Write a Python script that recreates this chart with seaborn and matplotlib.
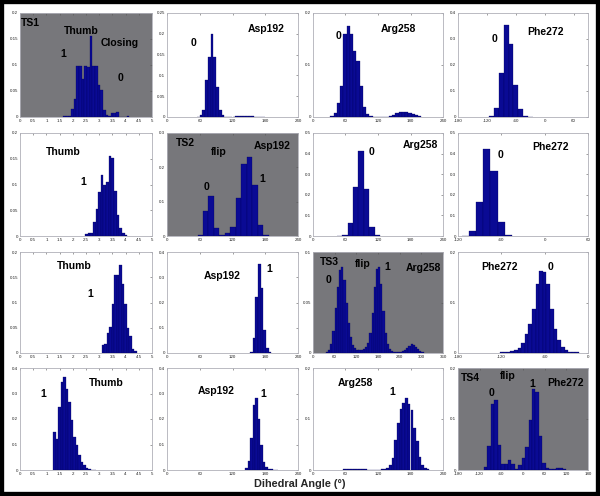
import numpy as np
import pandas as pd
import matplotlib
matplotlib.use("Agg")
import matplotlib.pyplot as plt
from matplotlib.patches import Rectangle
import seaborn as sns

# --- DATA : fraction of frames per bin (bin start, bin width, heights) ---
# row 1 : TS1 (thumb closing)
ts1_thumb_start, ts1_thumb_width = 1.64, 0.1
ts1_thumb_h = [0.001, 0.001, 0.002, 0.015, 0.035, 0.099, 0.099, 0.074, 0.099, 0.097, 0.156,
               0.099, 0.099, 0.061, 0.052, 0.014, 0.003, 0.001, 0.008, 0.008, 0.009, 0, 0, 0, 0.002]
ts1_asp_start, ts1_asp_width = 55, 5
ts1_asp_h = [0.001, 0.004, 0.018, 0.089, 0.145, 0.2, 0.145, 0.073, 0.016, 0.004, 0.001,
             0.001, 0.001, 0.001, 0.002, 0.002, 0.002, 0.002, 0.002, 0.002, 0.002, 0.001, 0.001, 0.001, 0.001]
ts1_arg_start, ts1_arg_width = 32, 6
ts1_arg_h = [0.002, 0.008, 0.026, 0.06, 0.159, 0.175, 0.159, 0.127, 0.107, 0.06, 0.019, 0.006, 0.002,
             0, 0, 0, 0, 0, 0.001, 0.004, 0.008, 0.009, 0.01, 0.01, 0.008, 0.006, 0.003, 0.001]
ts1_phe_start, ts1_phe_width = -115, 10
ts1_phe_h = [0.003, 0.033, 0.171, 0.353, 0.282, 0.123, 0.032, 0.005, 0.001]

# row 2 : TS2 (Asp192 flip)
ts2_thumb_start, ts2_thumb_width = 2.46, 0.1
ts2_thumb_h = [0.004, 0.006, 0.005, 0.028, 0.053, 0.086, 0.119, 0.1, 0.104, 0.155, 0.152,
               0.088, 0.041, 0.016, 0.005, 0.001]
ts2_asp_start, ts2_asp_width = 56, 10
ts2_asp_h = [0.003, 0.074, 0.117, 0.022, 0.003, 0.01, 0.026, 0.112, 0.211, 0.229, 0.149, 0.031, 0.003]
ts2_arg_start, ts2_arg_width = 44, 10
ts2_arg_h = [0.001, 0.006, 0.062, 0.238, 0.413, 0.23, 0.046, 0.005]
ts2_phe_start, ts2_phe_width = -115, 10
ts2_phe_h = [0.002, 0.025, 0.164, 0.423, 0.315, 0.066, 0.004]

# row 3 : TS3 (Arg258 flip)
ts3_thumb_start, ts3_thumb_width = 3.1, 0.095
ts3_thumb_h = [0.015, 0.018, 0.04, 0.052, 0.098, 0.154, 0.154, 0.175, 0.137, 0.098, 0.049, 0.033, 0.008, 0.003]
ts3_asp_start, ts3_asp_width = 152.5, 4.8
ts3_asp_h = [0.003, 0.059, 0.222, 0.354, 0.258, 0.091, 0.02, 0.002]
ts3_arg_start, ts3_arg_width = 36, 6
ts3_arg_h = [0.001, 0.003, 0.009, 0.022, 0.045, 0.065, 0.082, 0.085, 0.072, 0.05, 0.03, 0.016,
             0.008, 0.005, 0.003, 0.003, 0.003, 0.004, 0.006, 0.01, 0.02, 0.04, 0.065, 0.083,
             0.085, 0.068, 0.042, 0.02, 0.009, 0.004, 0.002, 0.001, 0.001, 0.001, 0.001, 0.002,
             0.003, 0.005, 0.007, 0.0085, 0.008, 0.006, 0.004, 0.002, 0.001]
ts3_phe_start, ts3_phe_width = -122.5, 5
ts3_phe_h = [0.001, 0.001, 0.002, 0.003, 0.005, 0.01, 0.02, 0.038, 0.058, 0.087, 0.136,
             0.163, 0.161, 0.136, 0.087, 0.048, 0.025, 0.012, 0.005, 0.002, 0.001, 0.001]

# row 4 : TS4 (Phe272 flip)
ts4_thumb_start, ts4_thumb_width = 1.25, 0.095
ts4_thumb_h = [0.149, 0.123, 0.246, 0.347, 0.365, 0.317, 0.268, 0.197, 0.129, 0.097, 0.058,
               0.032, 0.019, 0.006, 0.002, 0.001, 0.001]
ts4_asp_start, ts4_asp_width = 143, 4.6
ts4_asp_h = [0.009, 0.037, 0.125, 0.254, 0.284, 0.2, 0.099, 0.033, 0.013, 0.005, 0.002, 0.001, 0.001]
ts4_arg_start, ts4_arg_width = 55, 5
ts4_arg_h = [0.001, 0.001, 0.001, 0.001, 0.001, 0.001, 0.001, 0.001, 0.001, 0, 0, 0, 0, 0,
             0.001, 0.002, 0.003, 0.01, 0.024, 0.059, 0.093, 0.12, 0.132, 0.142, 0.13, 0.117,
             0.083, 0.056, 0.026, 0.01, 0.003, 0.001]
ts4_phe_start, ts4_phe_width = -108, 9.5
ts4_phe_h = [0.005, 0.047, 0.13, 0.138, 0.05, 0.011, 0.011, 0.019, 0.011, 0.002, 0.009, 0.023,
             0.046, 0.099, 0.158, 0.153, 0.067, 0.013, 0.003, 0.002, 0.002, 0.003, 0.003, 0.002]

thumb_ticks = [0, 0.5, 1, 1.5, 2, 2.5, 3, 3.5, 4, 4.5, 5]
angle_ticks = [0, 60, 120, 180, 240]

BAR = "#0a0a94"
GRAY = "#77777b"

# panel table: (data, xlim, xticks, ylim, yticks, gray bg, annotations)
panels = [
    [(ts1_thumb_start, ts1_thumb_width, ts1_thumb_h), (0, 5), thumb_ticks, (0, 0.2), [0, 0.05, 0.1, 0.15, 0.2], True,
     [("TS1", 0.41, 0.18), ("Thumb", 2.32, 0.166), ("Closing", 3.79, 0.142), ("1", 1.65, 0.121), ("0", 3.79, 0.075)]],
    [(ts1_asp_start, ts1_asp_width, ts1_asp_h), (0, 240), angle_ticks, (0, 0.25), [0, 0.05, 0.1, 0.15, 0.2, 0.25], False,
     [("0", 48, 0.177), ("Asp192", 181, 0.211)]],
    [(ts1_arg_start, ts1_arg_width, ts1_arg_h), (0, 240), angle_ticks, (0, 0.2), [0, 0.1, 0.2], False,
     [("0", 48, 0.156), ("Arg258", 157, 0.17)]],
    [(ts1_phe_start, ts1_phe_width, ts1_phe_h), (-180, 90), [-180, -120, -60, 0, 60], (0, 0.4), [0, 0.1, 0.2, 0.3, 0.4], False,
     [("0", -105, 0.30), ("Phe272", 1.4, 0.327)]],

    [(ts2_thumb_start, ts2_thumb_width, ts2_thumb_h), (0, 5), thumb_ticks, (0, 0.2), [0, 0.05, 0.1, 0.15, 0.2], False,
     [("Thumb", 1.62, 0.164), ("1", 2.39, 0.105)]],
    [(ts2_asp_start, ts2_asp_width, ts2_asp_h), (0, 240), angle_ticks, (0, 0.3), [0, 0.1, 0.2, 0.3], True,
     [("TS2", 33, 0.27), ("flip", 94, 0.246), ("Asp192", 193, 0.263), ("0", 72, 0.142), ("1", 175, 0.166)]],
    [(ts2_arg_start, ts2_arg_width, ts2_arg_h), (0, 240), angle_ticks, (0, 0.5), [0, 0.1, 0.2, 0.3, 0.4, 0.5], False,
     [("Arg258", 198, 0.443), ("0", 107.5, 0.407)]],
    [(ts2_phe_start, ts2_phe_width, ts2_phe_h), (-120, 60), [-120, -60, 0, 60], (0, 0.5), [0, 0.1, 0.2, 0.3, 0.4, 0.5], False,
     [("Phe272", 8, 0.43), ("0", -61, 0.393)]],

    [(ts3_thumb_start, ts3_thumb_width, ts3_thumb_h), (0, 5), thumb_ticks, (0, 0.2), [0, 0.05, 0.1, 0.15, 0.2], False,
     [("Thumb", 2.05, 0.173), ("1", 2.65, 0.117)]],
    [(ts3_asp_start, ts3_asp_width, ts3_asp_h), (0, 240), angle_ticks, (0, 0.4), [0, 0.1, 0.2, 0.3, 0.4], False,
     [("Asp192", 100.8, 0.306), ("1", 188, 0.332)]],
    [(ts3_arg_start, ts3_arg_width, ts3_arg_h), (0, 360), [0, 60, 120, 180, 240, 300, 360], (0, 0.1), [0, 0.05, 0.1], True,
     [("TS3", 44, 0.09), ("flip", 137, 0.088), ("1", 205, 0.085), ("Arg258", 305, 0.084), ("0", 42, 0.072)]],
    [(ts3_phe_start, ts3_phe_width, ts3_phe_h), (-180, 0), [-180, -120, -60, 0], (0, 0.2), [0, 0.1, 0.2], False,
     [("Phe272", -122.7, 0.17), ("0", -52, 0.17)]],

    [(ts4_thumb_start, ts4_thumb_width, ts4_thumb_h), (0, 5), thumb_ticks, (0, 0.4), [0, 0.1, 0.2, 0.3, 0.4], False,
     [("Thumb", 3.28, 0.343), ("1", 0.89, 0.298)]],
    [(ts4_asp_start, ts4_asp_width, ts4_asp_h), (0, 240), angle_ticks, (0, 0.4), [0, 0.1, 0.2, 0.3, 0.4], False,
     [("Asp192", 91, 0.31), ("1", 176.6, 0.297)]],
    [(ts4_arg_start, ts4_arg_width, ts4_arg_h), (0, 240), angle_ticks, (0, 0.2), [0, 0.1, 0.2], False,
     [("Arg258", 78, 0.171), ("1", 147, 0.153)]],
    [(ts4_phe_start, ts4_phe_width, ts4_phe_h), (-180, 180), [-180, -120, -60, 0, 60, 120, 180], (0, 0.2), [0, 0.1, 0.2], True,
     [("TS4", -146.6, 0.18), ("flip", -41.5, 0.185), ("0", -87, 0.151), ("1", 26, 0.168), ("Phe272", 118, 0.17)]],
]

# axes boxes in pixels (left, right) / (top, bottom)
col_px = [(20, 152), (167, 298), (313, 443), (458, 588)]
row_px = [(13, 117), (133, 236), (252, 353), (368, 470)]
W, H = 600, 496


def draw_panel(ax, data, xlim, xticks, ylim, yticks, gray, notes):
    start, width, heights = data
    edges = start + width * np.arange(len(heights) + 1)
    df = pd.DataFrame({"angle": edges[:-1] + width / 2, "frac": heights})
    sns.histplot(data=df, x="angle", weights="frac", bins=edges.tolist(), ax=ax, color=BAR,
                 edgecolor="#000055", linewidth=0.2, alpha=1)
    ax.set_facecolor(GRAY if gray else "white")
    ax.set_xlim(*xlim)
    ax.set_ylim(*ylim)
    ax.set_xticks(xticks)
    ax.set_xticklabels([f"{t:g}" for t in xticks])
    ax.set_yticks(yticks)
    ax.set_yticklabels([f"{t:g}" for t in yticks])
    ax.set_xlabel("")
    ax.set_ylabel("")
    ax.tick_params(direction="in", length=1.5, width=0.4, labelsize=3.2, pad=1.2,
                   top=True, right=True, colors="#555555", labelcolor="#222222")
    for sp in ax.spines.values():
        sp.set_visible(True)
        sp.set_color("#b0b0b8")
        sp.set_linewidth(0.6)
    for s, x, y in notes:
        ax.text(x, y, s, ha="center", va="center", fontsize=7.5, fontweight="bold", color="black")


sns.set_theme(style="white")
plt.rcParams['font.family'] = ['Liberation Sans', 'DejaVu Sans']

fig = plt.figure(figsize=(6, 4.96), dpi=100)
fig.patch.set_facecolor("white")

for i, p in enumerate(panels):
    r, c = divmod(i, 4)
    x0, x1 = col_px[c]
    y0, y1 = row_px[r]
    ax = fig.add_axes([x0 / W, 1 - y1 / H, (x1 - x0) / W, (y1 - y0) / H])
    draw_panel(ax, *p)

fig.text(0.5, 1 - 484 / H, "Dihedral Angle (°)", ha="center", va="center",
         fontsize=7.8, fontweight="bold")

# thick black frame round the whole figure
fig.add_artist(Rectangle((0, 0), 1, 1, transform=fig.transFigure, fill=False,
                         lw=6, edgecolor="black"))

fig.savefig("out.png", dpi=100)
